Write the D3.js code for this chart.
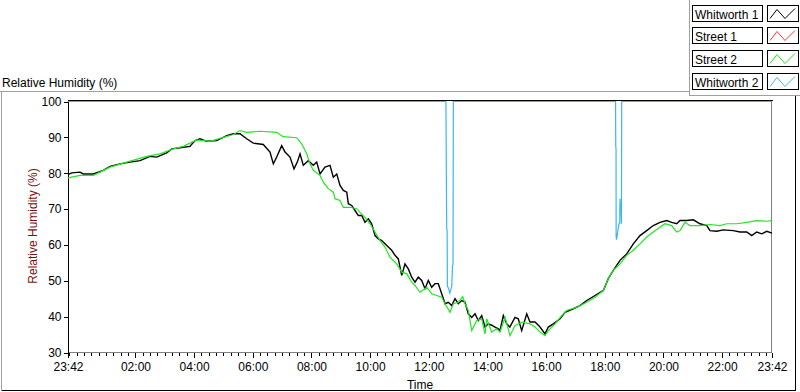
<!DOCTYPE html>
<html><head><meta charset="utf-8">
<script src="https://cdn.jsdelivr.net/npm/d3@7"></script>
<style>body{margin:0;background:#fff}svg{display:block;font-family:"Liberation Sans",Arial,sans-serif}</style>
</head><body><svg id="c" width="800" height="392"></svg>
<script>
// ---- data (minutes after 23:42 start, relative humidity %) ----
const seriesNames = ["Whitworth 1", "Street 1", "Street 2", "Whitworth 2"];
const seriesColors = ["#000000", "#f03a3a", "#1ee81e", "#3cb6f2"];
const yTicks = [30, 40, 50, 60, 70, 80, 90, 100];
const xTickLabels = ["23:42", "02:00", "04:00", "06:00", "08:00", "10:00", "12:00", "14:00", "16:00", "18:00", "20:00", "22:00", "23:42"];

const w1Min = [0,7.6,24.5,31.3,51.8,72.2,85.9,106.4,126.8,147.3,167.7,181.4,201.9,212.1,229.1,249.5,259.8,270,283.7,304.2,324.6,338.1,351.8,365.5,379,399.5,413.2,420,426.9,437.1,443.9,454.1,462.3,469,474.6,481.3,491.5,501.8,508.7,515.5,525.7,535.9,542.7,549.7,556.4,563.2,570.2,573.4,580.3,587,593.8,600.8,607.5,614.3,621.2,628,634.7,641.7,648.4,655.2,662.1,668.9,675.6,682.6,689.3,696.1,703,709.8,716.5,723.5,730.2,737,743.9,750.7,757.4,764.4,771.2,777.9,784.9,791.6,798.4,805.3,812.1,818.8,825.8,832.5,839.3,846.2,853,859.7,866.7,873.4,880.2,883.6,890.4,897.3,903.7,914.3,921,928,938.3,945,955.3,965.5,975.7,982.5,992.7,1006.4,1016.6,1033.6,1047.3,1061,1078,1095,1105.2,1115.4,1129.1,1142.8,1156.3,1170,1183.7,1197.2,1210.9,1224.6,1234.8,1245.1,1251.8,1265.5,1279,1292.7,1306.5,1313.2,1326.9,1340.4,1360.9,1374.6,1388.3,1398.5,1408.7,1419,1429.2,1440];
const w1RH = [79.6,80.1,80.3,79.8,79.8,80.8,81.9,82.6,83.1,83.5,84.7,84.5,85.7,86.8,87.1,87.5,89.1,89.6,88.9,89.1,90.5,91.0,91.0,89.6,88.4,88.0,85.9,82.6,84.5,87.7,85.9,84.5,81.2,83.1,85.4,82.2,83.5,82.2,83.1,79.8,81.7,82.2,78.9,79.8,76.6,75.2,74.7,71.5,71.0,69.6,68.2,68.2,66.3,67.3,65.9,62.6,61.7,61.2,60.3,59.4,58.5,57.1,56.1,51.5,54.7,53.3,51.0,49.6,51.0,50.1,47.8,50.1,48.2,49.2,49.2,46.4,43.6,44.0,43.1,45.0,43.6,44.5,44.0,40.8,39.8,40.8,38.9,40.3,37.1,38.0,37.6,37.1,36.6,36.1,40.3,38.0,37.1,39.8,39.4,36.1,40.8,38.5,38.5,37.1,35.2,37.1,38.0,39.4,41.2,42.2,43.1,44.5,45.9,47.3,50.6,52.9,55.7,57.5,60.3,62.6,64.0,65.4,66.3,66.8,66.3,65.9,66.8,66.8,67.0,65.9,65.4,64.0,63.8,64.2,64.0,63.6,63.6,62.6,63.6,63.1,63.8,63.3];

const s1Min = [];
const s1RH = [];

const s2Min = [0,24.5,51.8,65.5,85.9,120.1,161,188.2,215.4,235.8,263.3,290.5,317.7,338.1,351.8,365.5,392.7,426.9,439.8,467.8,478,488.3,495,501.8,515.5,522.2,532.4,542.7,546.1,556.4,563.2,576.8,590.5,597.3,607.5,617.7,628,638.2,648.4,658.6,672.3,682.6,692.8,703,709.8,720,733.7,743.9,754.2,764.4,771.2,781.4,788.2,798.4,807.4,812.1,818.8,825.8,836,846.2,853,856.4,866.7,876.9,883.6,893.9,904.1,914.3,928,945,955.3,965.5,975.7,982.5,996.2,1009.9,1020.1,1040.6,1061,1078,1095,1105.2,1115.4,1129.1,1142.8,1156.3,1170,1183.7,1197.2,1210.9,1221.1,1234.8,1245.1,1251.8,1262,1272.3,1292.7,1313.2,1333.6,1347.4,1367.8,1388.3,1408.7,1429.2,1440];
const s2RH = [78.7,79.4,79.4,80.3,81.7,83.1,84.7,85.4,86.8,87.5,89.3,88.9,90.0,90.8,91.9,91.4,91.7,91.4,90.2,89.9,88.2,85.4,82.6,80.8,79.4,77.5,75.7,74.7,72.9,72.4,70.5,70.5,70.1,69.1,67.7,65.9,63.6,61.2,59.4,56.6,54.7,52.4,52.0,49.6,48.7,46.8,48.2,46.4,45.9,45.4,43.6,41.2,43.6,44.0,45.6,43.6,41.7,36.1,38.9,39.4,35.2,39.4,35.7,36.6,35.7,39.8,34.7,37.5,38.5,38.0,37.1,35.7,34.7,36.1,38.0,40.3,41.7,42.6,44.0,45.4,47.3,50.6,52.9,54.7,57.1,58.5,60.3,62.2,63.6,64.9,65.9,65.4,63.6,64.0,66.3,65.4,65.4,65.7,65.4,65.9,65.9,66.3,66.8,66.6,66.8];

const w2Min = [0,773,774.6,775.5,776,778,781,784,785,786.5,787.5,788.2,1120,1120.4,1121,1121.2,1122,1124.4,1127,1128.5,1129.1,1130,1131.1,1132,1132.6,1440];
const w2RH = [100,100,64.6,64.0,48.5,48.0,46.5,48.0,48.5,54.3,54.5,100,100,87.3,87.0,62.2,61.5,63.6,65.9,66.0,72.9,70.0,71.0,65.9,100,100];

// ---- drawing ----
const svg = d3.select("#c");
const start = new Date(2000, 0, 1, 23, 42);
const end = new Date(start.getTime() + 24 * 3600 * 1000);
const toDate = m => new Date(start.getTime() + m * 60000);

const x = d3.scaleTime().domain([start, end]).range([68, 772]);
const y = d3.scaleLinear().domain([30, 100]).range([352.5, 101.5]);

// outer frame lines
const g0 = svg.append("g").attr("shape-rendering", "crispEdges");
g0.append("line").attr("x1", 0).attr("x2", 689.5).attr("y1", 91.5).attr("y2", 91.5).attr("stroke", "#a0a0a0");
g0.append("line").attr("x1", 689.5).attr("x2", 689.5).attr("y1", 0).attr("y2", 95.5).attr("stroke", "#a0a0a0");
g0.append("line").attr("x1", 689.5).attr("x2", 800).attr("y1", 95.5).attr("y2", 95.5).attr("stroke", "#a0a0a0");
g0.append("line").attr("x1", 1.5).attr("x2", 1.5).attr("y1", 91.5).attr("y2", 391).attr("stroke", "#a0a0a0");
g0.append("line").attr("x1", 1.5).attr("x2", 796).attr("y1", 390.5).attr("y2", 390.5).attr("stroke", "#000");
g0.append("line").attr("x1", 795.5).attr("x2", 795.5).attr("y1", 95.5).attr("y2", 391).attr("stroke", "#000");

// title
svg.append("text").attr("x", 2).attr("y", 87).attr("font-size", 12).attr("fill", "#000").text("Relative Humidity (%)");

// plot frame
const pf = svg.append("g").attr("shape-rendering", "crispEdges");
pf.append("line").attr("x1", 68).attr("x2", 772.5).attr("y1", 100.5).attr("y2", 100.5).attr("stroke", "#000");
pf.append("line").attr("x1", 771.5).attr("x2", 771.5).attr("y1", 100.5).attr("y2", 353).attr("stroke", "#808080");
pf.append("line").attr("x1", 68).attr("x2", 772).attr("y1", 352.5).attr("y2", 352.5).attr("stroke", "#808080");

// y axis
const yAxis = d3.axisLeft(y).tickValues(yTicks).tickSize(5).tickPadding(2).tickFormat(d3.format("d"));
const ya = svg.append("g").attr("transform", "translate(68.5,0)").call(yAxis);
ya.selectAll("path,line").attr("stroke", "#000").attr("shape-rendering", "crispEdges");
ya.select("path.domain").attr("d", "M0,100.5V353");
ya.selectAll("text").attr("font-size", 12).attr("font-family", '"Liberation Sans",Arial,sans-serif').attr("fill", "#000");

svg.append("text").attr("transform", "translate(37,226) rotate(-90)").attr("text-anchor", "middle")
  .attr("font-size", 12).attr("fill", "#7a0f0f").text("Relative Humidity (%)");

// x axis
const majorDates = xTickLabels.map((lab, i) => {
  if (i === 0) return start;
  if (i === xTickLabels.length - 1) return end;
  const [h, m] = lab.split(":").map(Number);
  return new Date(2000, 0, 2, h, m);
});
const minorDates = d3.timeMinute.every(15).range(start, end);
const xMinor = d3.axisBottom(x).tickValues(minorDates).tickSize(3).tickFormat("");
const xm = svg.append("g").attr("transform", "translate(0,353)").call(xMinor);
xm.select("path.domain").remove();
xm.selectAll("line").attr("stroke", "#000").attr("shape-rendering", "crispEdges");

const xAxis = d3.axisBottom(x).tickValues(majorDates).tickSize(5).tickPadding(4)
  .tickFormat((d, i) => xTickLabels[i]);
const xa = svg.append("g").attr("transform", "translate(0,353)").call(xAxis);
xa.select("path.domain").remove();
xa.selectAll("line").attr("stroke", "#000").attr("shape-rendering", "crispEdges");
xa.selectAll("text").attr("font-size", 12).attr("font-family", '"Liberation Sans",Arial,sans-serif').attr("fill", "#000");

svg.append("text").attr("x", 420).attr("y", 389).attr("text-anchor", "middle").attr("font-size", 12).attr("fill", "#000").text("Time");

// series
const seriesData = [
  [w1Min, w1RH], [s1Min, s1RH], [s2Min, s2RH], [w2Min, w2RH]
];
const line = d3.line().x(d => x(toDate(d[0]))).y(d => y(d[1]));
const plotG = svg.append("g");
seriesData.forEach(([mins, vals], i) => {
  if (!mins.length) return;
  const pts = mins.map((m, k) => [m, vals[k]]);
  plotG.append("path").attr("d", line(pts)).attr("fill", "none")
    .attr("stroke", seriesColors[i]).attr("stroke-width", i === 0 ? 1.4 : 1.2)
    .attr("stroke-linejoin", "miter");
});

// legend
const lg = svg.append("g");
seriesNames.forEach((name, i) => {
  const top = 4.5 + i * 22.7;
  const r = Math.round(top) + 0.5;
  lg.append("rect").attr("x", 692.5).attr("y", r).attr("width", 70).attr("height", 16)
    .attr("fill", "#fff").attr("stroke", "#000").attr("shape-rendering", "crispEdges");
  lg.append("text").attr("x", 695).attr("y", r + 13).attr("font-size", 12).attr("fill", "#000").text(name);
  lg.append("rect").attr("x", 767.5).attr("y", r).attr("width", 31).attr("height", 16)
    .attr("fill", "#fff").attr("stroke", "#000").attr("shape-rendering", "crispEdges");
  const sw = [[770, r + 13], [777, r + 4], [785, r + 13], [795, r + 3]];
  lg.append("path").attr("d", d3.line()(sw)).attr("fill", "none").attr("stroke", seriesColors[i]).attr("stroke-width", 1);
});
</script></body></html>
